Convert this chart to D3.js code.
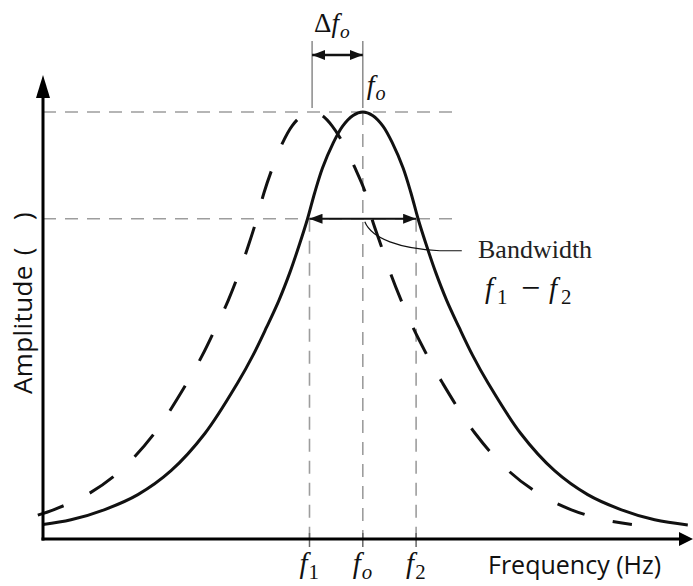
<!DOCTYPE html>
<html>
<head>
<meta charset="utf-8">
<script src="https://cdn.jsdelivr.net/npm/d3@7"></script>
<style>
  html, body { margin: 0; padding: 0; background: #fff; }
  svg { display: block; }
  .math { font-family: "Liberation Serif", "DejaVu Serif", serif; font-style: italic; fill: #111; }
  .sans { font-family: "Open Sans", "Noto Sans", sans-serif; fill: #111; }
</style>
</head>
<body>
<svg id="chart" width="693" height="586"></svg>
<script>
// Resonance response: original curve (solid)
const solidFreq = [0.0, 4.3, 9.5, 14.6, 19.7, 24.9, 30.0, 32.3, 34.4, 36.3, 38.0, 39.5, 40.7, 41.8, 43.0, 44.6, 46.1, 47.7, 49.2,
                   50.7, 52.3, 53.8, 55.4, 56.6, 57.7, 58.9, 60.4, 62.1, 64.0, 66.1, 68.4, 73.5, 78.7, 83.8, 88.9, 94.1, 99.2];
const solidAmp  = [0.034, 0.045, 0.069, 0.104, 0.160, 0.247, 0.367, 0.430, 0.496, 0.559, 0.625, 0.692, 0.750, 0.811, 0.869, 0.926, 0.967, 0.992, 1.000,
                   0.992, 0.967, 0.926, 0.869, 0.811, 0.750, 0.692, 0.625, 0.559, 0.496, 0.430, 0.367, 0.247, 0.160, 0.104, 0.069, 0.045, 0.033];

// Shifted response (dashed)
const dashedFreq = [-0.8, 1.7, 6.8, 11.9, 17.1, 22.2, 24.5, 26.6, 28.5, 30.2, 31.7, 32.9, 34.0, 35.3, 36.8, 38.3, 39.9, 41.4,
                    42.9, 44.5, 46.2, 48.0, 49.6, 50.6, 51.9, 53.4, 55.1, 56.9, 59.1, 61.4, 66.5, 71.6, 76.5, 81.2, 86.3, 90.6];
const dashedAmp  = [0.056, 0.069, 0.104, 0.160, 0.247, 0.367, 0.430, 0.496, 0.559, 0.625, 0.692, 0.750, 0.811, 0.869, 0.926, 0.967, 0.992, 1.000,
                    0.992, 0.967, 0.926, 0.869, 0.811, 0.750, 0.692, 0.625, 0.559, 0.496, 0.430, 0.367, 0.247, 0.160, 0.104, 0.069, 0.045, 0.034];

// Key frequencies and levels
const f1 = 41.0, f0 = 49.2, f2 = 57.4, fShifted = 41.4;
const peakLevel = 1.0, bandLevel = 0.75;
const guideEndFreq = 63.4;

const tickFreqs = [f1, f0, f2];
const tickNames = [["f", "1", false], ["f", "o", true], ["f", "2", false]];

const svg = d3.select("#chart");
const x = d3.scaleLinear().domain([0, 100]).range([43, 693]);
const y = d3.scaleLinear().domain([0, 1]).range([539, 112]);

const x0 = x.range()[0], xEnd = x.range()[1];
const y0 = y.range()[0];
const yTop = y(peakLevel) - 37;

// Marker for the measurement arrows
const defs = svg.append("defs");
defs.append("marker")
  .attr("id", "head").attr("viewBox", "0 0 13 10")
  .attr("refX", 13).attr("refY", 5)
  .attr("markerUnits", "userSpaceOnUse")
  .attr("markerWidth", 13).attr("markerHeight", 10)
  .attr("orient", "auto-start-reverse")
  .append("path").attr("d", "M0,0 L13,5 L0,10 Z").attr("fill", "#111");

const grey = "#9d9d9d";

// Horizontal guide lines at peak and band level
svg.append("g").selectAll("line")
  .data([peakLevel, bandLevel])
  .join("line")
  .attr("x1", x0).attr("x2", x(guideEndFreq))
  .attr("y1", d => y(d)).attr("y2", d => y(d))
  .attr("stroke", grey).attr("stroke-width", 1.6)
  .attr("stroke-dasharray", "13,9");

// Vertical dashed drop lines
const drops = [
  { f: f1, top: bandLevel },
  { f: f0, top: peakLevel },
  { f: f2, top: bandLevel }
];
svg.append("g").selectAll("line")
  .data(drops)
  .join("line")
  .attr("x1", d => x(d.f)).attr("x2", d => x(d.f))
  .attr("y1", d => y(d.top)).attr("y2", y0)
  .attr("stroke", grey).attr("stroke-width", 1.6)
  .attr("stroke-dasharray", "13,9");

// Tick marks on the frequency axis
svg.append("g").selectAll("line")
  .data(tickFreqs)
  .join("line")
  .attr("x1", d => x(d)).attr("x2", d => x(d))
  .attr("y1", y0 - 6).attr("y2", y0 + 8)
  .attr("stroke", "#666").attr("stroke-width", 1.5);

// Extension lines above the two peaks for the shift measurement
svg.append("g").selectAll("line")
  .data([fShifted, f0])
  .join("line")
  .attr("x1", d => x(d)).attr("x2", d => x(d))
  .attr("y1", 41).attr("y2", y(peakLevel) - 4)
  .attr("stroke", "#8a8a8a").attr("stroke-width", 1.5);

// Curves
const line = d3.line().x(d => x(d[0])).y(d => y(d[1])).curve(d3.curveCatmullRom.alpha(0.5));

const dashedPath = svg.append("path")
  .attr("d", line(d3.zip(dashedFreq, dashedAmp)))
  .attr("fill", "none").attr("stroke", "#111").attr("stroke-width", 3);

// Place the dash pattern so the shifted peak sits in a gap
const dashLen = 29, gapLen = 29, period = dashLen + gapLen;
const node = dashedPath.node();
const total = node.getTotalLength();
let peakAt = 0, minY = Infinity;
for (let s = 0; s <= total; s += 0.5) {
  const p = node.getPointAtLength(s);
  if (p.y < minY) { minY = p.y; peakAt = s; }
}
const offset = ((dashLen + gapLen / 2 - peakAt) % period + period) % period;
dashedPath.attr("stroke-dasharray", `${dashLen},${gapLen}`).attr("stroke-dashoffset", -offset);

svg.append("path")
  .attr("d", line(d3.zip(solidFreq, solidAmp)))
  .attr("fill", "none").attr("stroke", "#111").attr("stroke-width", 3);

// Axes with arrowheads
svg.append("line")
  .attr("x1", x0).attr("x2", x0).attr("y1", y0 + 1.5).attr("y2", yTop + 18)
  .attr("stroke", "#000").attr("stroke-width", 3);
svg.append("path")
  .attr("d", `M${x0},${yTop} L${x0 + 7},${yTop + 23} L${x0 - 7},${yTop + 23} Z`)
  .attr("fill", "#000");

svg.append("line")
  .attr("x1", x0 - 1.5).attr("x2", xEnd - 10).attr("y1", y0).attr("y2", y0)
  .attr("stroke", "#000").attr("stroke-width", 3);
svg.append("path")
  .attr("d", `M${xEnd},${y0} L${xEnd - 14},${y0 - 7} L${xEnd - 14},${y0 + 7} Z`)
  .attr("fill", "#000");

// Bandwidth arrow between f1 and f2
svg.append("line")
  .attr("x1", x(f1)).attr("x2", x(f2))
  .attr("y1", y(bandLevel)).attr("y2", y(bandLevel))
  .attr("stroke", "#111").attr("stroke-width", 2)
  .attr("marker-start", "url(#head)").attr("marker-end", "url(#head)");

// Peak-shift arrow
svg.append("line")
  .attr("x1", x(fShifted)).attr("x2", x(f0))
  .attr("y1", 55).attr("y2", 55)
  .attr("stroke", "#111").attr("stroke-width", 2.5)
  .attr("marker-start", "url(#head)").attr("marker-end", "url(#head)");

// Leader from the bandwidth arrow to its label
const lx = x(f0), ly = y(bandLevel);
svg.append("path")
  .attr("d", `M${lx + 2},${ly + 3} C${lx + 9},${ly + 20} ${lx + 37},${ly + 30} ${lx + 77},${ly + 32} L${lx + 99},${ly + 32}`)
  .attr("fill", "none").attr("stroke", "#111").attr("stroke-width", 1.2);

// Math labels
function fLabel(g, sub, subItalic) {
  g.append("tspan").text("f");
  g.append("tspan").attr("dy", 6).attr("dx", 1)
    .attr("font-size", "0.72em")
    .attr("font-style", subItalic ? "italic" : "normal")
    .text(sub);
}

svg.append("g").selectAll("text")
  .data(tickFreqs.map((f, i) => ({ f, n: tickNames[i] })))
  .join("text")
  .attr("class", "math")
  .attr("x", d => x(d.f) - 10).attr("y", 573)
  .attr("font-size", 29)
  .each(function (d) { fLabel(d3.select(this), d.n[1], d.n[2]); });

// Δf_o above the shift arrow
const dT = svg.append("text").attr("class", "math").attr("x", 314).attr("y", 32).attr("font-size", 27);
dT.append("tspan").attr("font-style", "normal").text("Δ");
fLabel(dT, "o", true);

// f_o at the peak
const pT = svg.append("text").attr("class", "math").attr("x", x(f0) + 4).attr("y", 94).attr("font-size", 28);
fLabel(pT, "o", true);

// Bandwidth text
svg.append("text")
  .attr("x", 478).attr("y", 258)
  .attr("font-family", "'Liberation Serif', 'DejaVu Serif', serif")
  .attr("font-size", 26).attr("fill", "#222")
  .text("Bandwidth");

const bwT = svg.append("text").attr("class", "math").attr("y", 298).attr("font-size", 29);
bwT.append("tspan").attr("x", 485).text("f");
bwT.append("tspan").attr("x", 497).attr("dy", 6).attr("font-size", "0.72em").attr("font-style", "normal").text("1");
bwT.append("tspan").attr("x", 521).attr("dy", -5).attr("font-size", 34).attr("font-style", "normal").text("−");
bwT.append("tspan").attr("x", 549).attr("dy", -1).text("f");
bwT.append("tspan").attr("x", 561).attr("dy", 6).attr("font-size", "0.72em").attr("font-style", "normal").text("2");

// Axis titles
const yTitle = svg.append("text")
  .attr("class", "sans")
  .attr("font-size", 26)
  .attr("letter-spacing", 0.4)
  .attr("transform", `translate(32,394) rotate(-90)`);
yTitle.append("tspan").text("Amplitude");
yTitle.append("tspan").attr("dx", 10).text("(");
yTitle.append("tspan").attr("dx", 27).text(")");

svg.append("text")
  .attr("class", "sans")
  .attr("x", 488).attr("y", 574)
  .attr("font-size", 25)
  .text("Frequency (Hz)");
</script>
</body>
</html>
